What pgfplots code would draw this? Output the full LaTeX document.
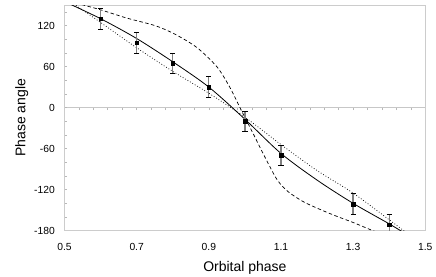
\documentclass[border=0pt]{standalone}
\usepackage{fontspec}
\setmainfont{Liberation Sans}
\usepackage{pgfplots}
\pgfplotsset{compat=1.18}
\begin{document}
\begin{tikzpicture}
\useasboundingbox (0,0) rectangle (436pt,276pt);
% zero line with small ticks
\begin{axis}[
  at={(64.5pt,45.3pt)}, anchor=south west,
  scale only axis, width=360.8pt, height=225.7pt,
  xmin=0.5, xmax=1.5, ymin=-180, ymax=150,
  axis x line=middle, axis y line=none,
  axis line style={-, draw=black!22, line width=0.8pt},
  xtick={0.5,0.54,0.58,0.62,0.66,0.7,0.74,0.78,0.82,0.86,0.9,0.94,0.98,1.02,1.06,1.1,1.14,1.18,1.22,1.26,1.3,1.34,1.38,1.42,1.46,1.5},
  xticklabels={}, tick align=outside, major tick length=2.5pt,
  x tick style={draw=black!28, line width=0.6pt},
]
\addplot[draw=none] coordinates {(0.5,0) (1.5,0)};
\end{axis}
\begin{axis}[
  at={(64.5pt,45.3pt)}, anchor=south west,
  scale only axis, width=360.8pt, height=225.7pt,
  xmin=0.5, xmax=1.5, ymin=-180, ymax=150,
  xtick={0.5,0.7,0.9,1.1,1.3,1.5},
  xticklabels={0.5,0.7,0.9,1.1,1.3,1.5},
  ytick={-180,-120,-60,0,60,120},
  yticklabels={-180,-120,-60,0,60,120},
  minor ytick={-160,-140,-100,-80,-40,-20,20,40,80,100,140},
  axis line style={draw=black!20, line width=0.8pt},
  x tick style={draw=none},
  y tick style={draw=black!28, line width=0.6pt},
  major tick length=2.5pt, minor tick length=2.5pt,
  tick align=inside, ytick pos=left,
  ticklabel style={font=\fontsize{10.3}{12}\selectfont, text=black},
  xticklabel style={anchor=base, yshift=-19.7pt},
  yticklabel style={anchor=east, inner sep=0pt, xshift=-9.5pt},
  xlabel={Orbital phase}, ylabel={Phase angle},
  label style={font=\fontsize{14}{16}\selectfont},
  xlabel style={at={(axis description cs:0.5,-0.1817)}, anchor=base},
  ylabel style={at={(axis description cs:-0.1186,0.5)}, anchor=center},
]
% dashed model
\addplot[black, line width=0.7pt, dash pattern=on 3.5pt off 2.5pt, smooth] coordinates {
(0.50,158) (0.552,150) (0.60,143) (0.672,131) (0.75,120) (0.80,109) (0.85,94)
(0.88,82) (0.925,58) (0.96,28) (0.99,-4) (1.02,-35) (1.06,-77) (1.09,-106)
(1.12,-123) (1.16,-137) (1.20,-147) (1.25,-158) (1.30,-168) (1.355,-180) (1.40,-189)};
% dotted model
\addplot[black, line width=0.7pt, dash pattern=on 0.8pt off 2pt, smooth] coordinates {
(0.50,161) (0.60,124.5) (0.70,87.5) (0.80,53) (0.90,21) (1.00,-14) (1.10,-54)
(1.20,-92) (1.30,-125) (1.40,-164) (1.45,-184)};
% solid model
\addplot[black, line width=0.8pt, smooth] coordinates {
(0.50,155) (0.60,130) (0.70,101) (0.80,67) (0.90,30) (1.00,-17) (1.10,-67)
(1.20,-106) (1.30,-140) (1.40,-170) (1.45,-186)};
% data with error bars
\addplot[only marks, mark=square*, mark size=1.8pt, black,
  error bars/.cd, y dir=both, y explicit,
  error bar style={draw=black!50, line width=1.3pt},
  error mark options={draw=black, line width=0.7pt, mark size=2.6pt, rotate=90}]
  coordinates {
(0.6,130) +- (0,15)
(0.7,95) +- (0,15)
(0.8,65) +- (0,15)
(0.9,30) +- (0,15)
(1.0,-20) +- (0,15)
(1.1,-70) +- (0,15)
(1.3,-141) +- (0,15)
(1.4,-171) +- (0,15)};
\end{axis}
\end{tikzpicture}
\end{document}
